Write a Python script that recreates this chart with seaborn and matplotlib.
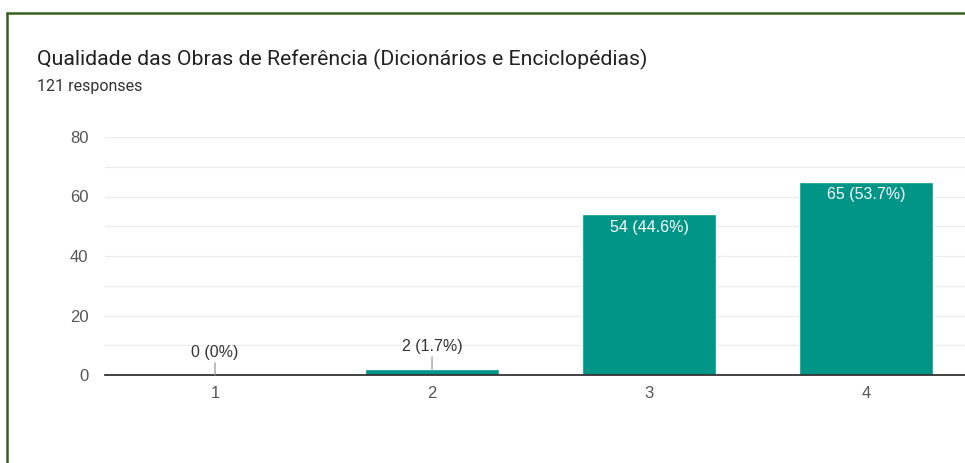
import matplotlib
matplotlib.use('Agg')
import matplotlib.pyplot as plt
import seaborn as sns
import pandas as pd
from matplotlib.lines import Line2D

# dados do gráfico
categorias = ['1', '2', '3', '4']
respostas = [0, 2, 54, 65]
rotulos = ['0 (0%)', '2 (1.7%)', '54 (44.6%)', '65 (53.7%)']
titulo = 'Qualidade das Obras de Referência (Dicionários e Enciclopédias)'
subtitulo = '121 responses'

sns.set_style('white')
plt.rcParams['font.family'] = ['Liberation Sans', 'DejaVu Sans']

df = pd.DataFrame({'nota': categorias, 'n': respostas})

fig = plt.figure(figsize=(9.65, 4.63), dpi=100)
ax = fig.add_axes([105 / 965, 1 - 375 / 463, 1 - 105 / 965, (375 - 137) / 463])

sns.barplot(data=df, x='nota', y='n', color='#019587', saturation=1, width=0.62, ax=ax)

ax.set_ylim(0, 80)
ax.set_xlim(-0.507, 3.456)
ax.set_yticks(range(0, 81, 20))
ax.set_yticks(range(10, 80, 20), minor=True)
ax.grid(axis='y', which='both', color='#ececec', linewidth=1)
ax.set_axisbelow(True)
ax.set_xlabel('')
ax.set_ylabel('')
for s in ['top', 'right', 'left']:
    ax.spines[s].set_visible(False)
ax.spines['bottom'].set_color('#333333')
ax.spines['bottom'].set_linewidth(1.3)
ax.tick_params(axis='both', length=0, labelsize=12, labelcolor='#555555')
ax.tick_params(axis='y', pad=12)
ax.tick_params(axis='x', pad=8)

# rótulos das barras
for i, (v, txt) in enumerate(zip(respostas, rotulos)):
    if v > 20:
        ax.annotate(txt, xy=(i, v), xytext=(0, -9.5), textcoords='offset points',
                    ha='center', va='center', color='white', fontsize=11.5)
    else:
        ax.annotate(txt, xy=(i, v), xytext=(0, 16.5), textcoords='offset points',
                    ha='center', va='center', color='#333333', fontsize=11.5,
                    arrowprops=dict(arrowstyle='-', color='#999999', lw=0.9,
                                    shrinkA=0, shrinkB=0))

fig.text(37 / 965, 1 - 59 / 463, titulo, fontsize=15.3, color='#212121', va='center',
         family='Roboto')
fig.text(37 / 965, 1 - 87 / 463, subtitulo, fontsize=11.5, color='#333333', va='center',
         family='Roboto')

# moldura verde
fig.add_artist(Line2D([7 / 965, 7 / 965], [0, 1 - 12.5 / 463], color='#3a5f1e', lw=1.8))
fig.add_artist(Line2D([7 / 965, 1], [1 - 12.5 / 463, 1 - 12.5 / 463], color='#3a5f1e', lw=1.8))

fig.savefig('out.png', dpi=100)
